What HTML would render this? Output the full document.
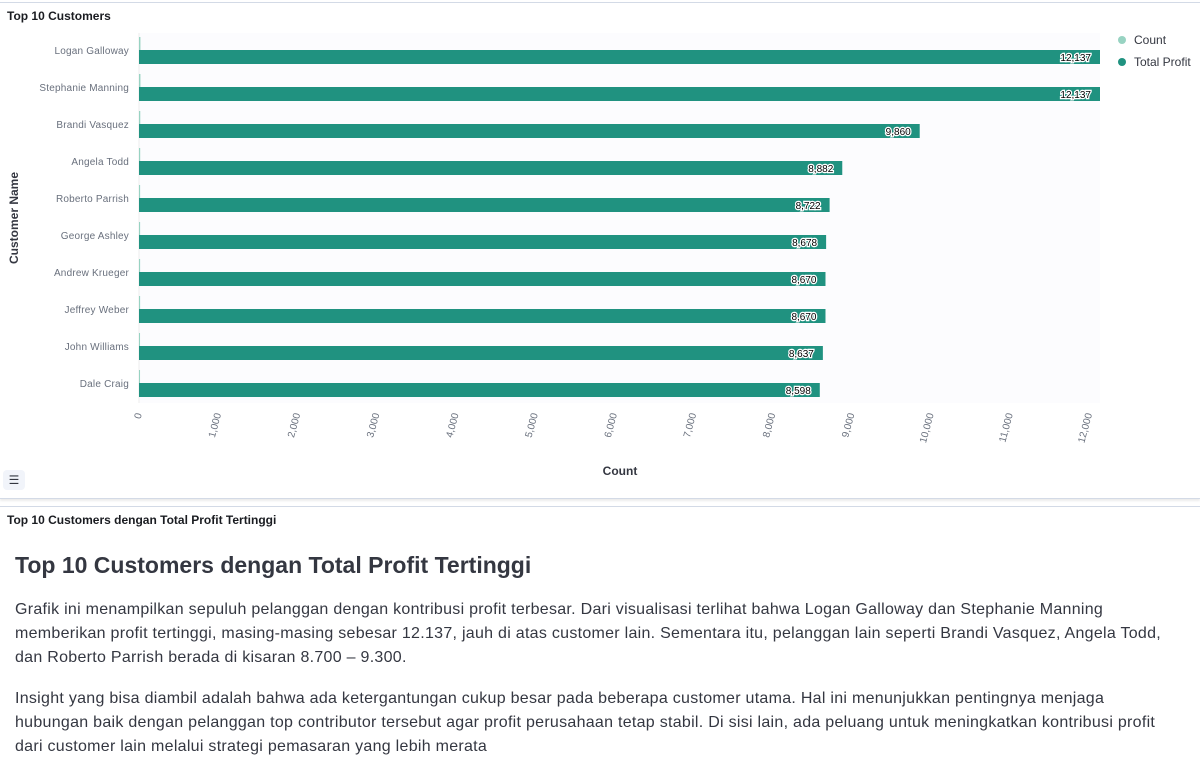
<!DOCTYPE html>
<html><head><meta charset="utf-8"><style>
body{margin:0;width:1200px;height:768px;background:#fff;font-family:"Liberation Sans",sans-serif;overflow:hidden;position:relative}
.panel{position:absolute;left:0;top:2px;width:1200px;height:495px;border-top:1px solid #d3dae6;border-bottom:1px solid #d3dae6;box-shadow:0 2px 2px rgba(0,0,0,.08)}
.title{position:absolute;left:7px;font-size:12px;font-weight:bold;color:#1a1c21}
.md{position:absolute;left:15px;top:549px;width:1160px;color:#343741}
.md h2{font-size:23px;margin:0 0 17px 0;font-weight:bold;line-height:32px}
.md p{font-size:16px;line-height:24px;margin:0 0 17px 0;letter-spacing:0.28px}
</style></head><body>
<div class="panel"></div>
<div class="title" style="top:9px">Top 10 Customers</div>
<svg id="chart" width="1200" height="500" style="position:absolute;left:0;top:0"></svg>
<div style="position:absolute;left:3px;top:470px;width:22px;height:20px;background:#f1f4fa;border-radius:4px;font-size:12px;color:#343741;text-align:center;line-height:20px">☰</div>
<div style="position:absolute;left:0;top:506px;width:1200px;border-top:1px solid #d3dae6"></div>
<div class="title" style="top:513px">Top 10 Customers dengan Total Profit Tertinggi</div>
<div class="md">
<h2>Top 10 Customers dengan Total Profit Tertinggi</h2>
<p>Grafik ini menampilkan sepuluh pelanggan dengan kontribusi profit terbesar. Dari visualisasi terlihat bahwa Logan Galloway dan Stephanie Manning memberikan profit tertinggi, masing-masing sebesar 12.137, jauh di atas customer lain. Sementara itu, pelanggan lain seperti Brandi Vasquez, Angela Todd, dan Roberto Parrish berada di kisaran 8.700 – 9.300.</p>
<p>Insight yang bisa diambil adalah bahwa ada ketergantungan cukup besar pada beberapa customer utama. Hal ini menunjukkan pentingnya menjaga hubungan baik dengan pelanggan top contributor tersebut agar profit perusahaan tetap stabil. Di sisi lain, ada peluang untuk meningkatkan kontribusi profit dari customer lain melalui strategi pemasaran yang lebih merata</p>
</div>
<script>
const categories=["Logan Galloway","Stephanie Manning","Brandi Vasquez","Angela Todd","Roberto Parrish","George Ashley","Andrew Krueger","Jeffrey Weber","John Williams","Dale Craig"];
const profitValues=[12137,12137,9860,8882,8722,8678,8670,8670,8637,8598];
const countValues=[18,18,16,15,14,14,14,14,13,13];
const tickValues=[0,1000,2000,3000,4000,5000,6000,7000,8000,9000,10000,11000,12000];
const NS="http://www.w3.org/2000/svg";
const svg=document.getElementById('chart');
const x0=139,x1=1100,y0=33,band=37;
const xMax=12137;
const xs=v=>x0+v/xMax*(x1-x0);
const yb=i=>y0+i*band;
const fmt=v=>v.toLocaleString('en-US');
function mk(t,a){const e=document.createElementNS(NS,t);for(const k in a)e.setAttribute(k,a[k]);svg.appendChild(e);return e;}
let bg=mk('rect',{x:x0,y:y0,width:x1-x0,height:band*categories.length,fill:'#fcfcfe'});


let ax=mk('line',{x1:x0,y1:y0,x2:x0,y2:y0+band*categories.length,stroke:'#eee'});
categories.forEach((c,i)=>{
 let l=mk('text',{x:129,y:yb(i)+21,'text-anchor':'end','font-size':10,fill:'#69707d','letter-spacing':'0.2'});l.textContent=c;
 
 
 let cb=mk('rect',{x:x0,y:yb(i)+4,width:Math.max(0,xs(countValues[i])-x0),height:13,fill:'#98d3c2'});
 
 
 let pb=mk('rect',{x:x0,y:yb(i)+17,width:xs(profitValues[i])-x0,height:14,fill:'#209280'});
 
 
 let v=mk('text',{x:xs(profitValues[i])-9,y:yb(i)+28,'text-anchor':'end','font-size':10,fill:'#000',stroke:'#fff','stroke-width':2.5,'paint-order':'stroke'});v.textContent=fmt(profitValues[i]);
 
 
});
tickValues.forEach(t=>{
 const x=xs(t);
 let l=mk('text',{x:0,y:0,'text-anchor':'end','font-size':10,fill:'#69707d',transform:`translate(${x+3},${414}) rotate(-75)`});l.textContent=fmt(t);
 
 
});
let xt=mk('text',{x:620,y:475,'text-anchor':'middle','font-size':12,'font-weight':'bold',fill:'#343741'});xt.textContent='Count';


let yt=mk('text',{x:0,y:0,'text-anchor':'middle','font-size':12,'font-weight':'bold',fill:'#343741',transform:'translate(18,218) rotate(-90)'});yt.textContent='Customer Name';


[['Count','#98d3c2',40],['Total Profit','#209280',62]].forEach(([n,c,y])=>{
 let d=mk('circle',{cx:1122,cy:y,r:4,fill:c});
 
 
 let t=mk('text',{x:1134,y:y+4,'font-size':12,fill:'#343741'});t.textContent=n;
 
 
});
</script>
</body></html>
